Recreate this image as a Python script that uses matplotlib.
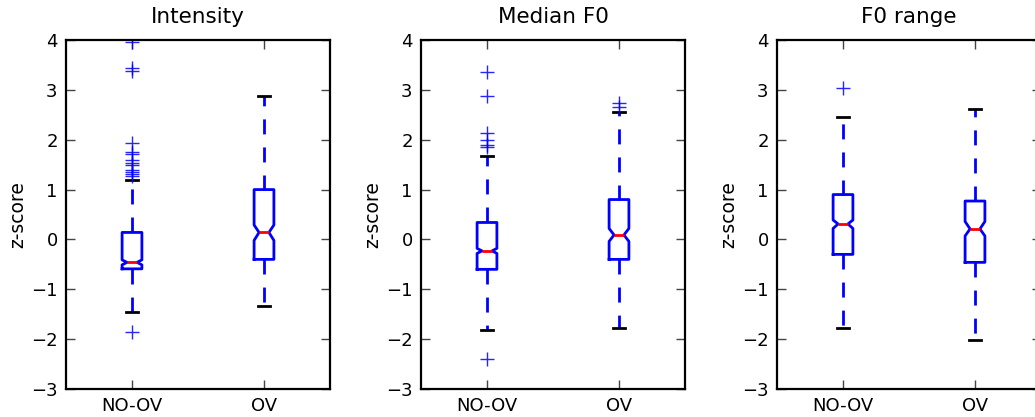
import matplotlib
matplotlib.use("Agg")
import matplotlib.pyplot as plt

plt.rcParams["font.family"] = ["DejaVu Sans"]
plt.rcParams["font.size"] = 13
plt.rcParams["lines.scale_dashes"] = False

groups = ["NO-OV", "OV"]
titles = ["Intensity", "Median F0", "F0 range"]

# box statistics, one list per panel: [NO-OV, OV]
medians = [[-0.46, 0.14], [-0.23, 0.09], [0.31, 0.21]]
q1 = [[-0.59, -0.40], [-0.60, -0.40], [-0.30, -0.46]]
q3 = [[0.14, 1.00], [0.34, 0.80], [0.90, 0.77]]
notch_lo = [[-0.51, -0.02], [-0.28, -0.04], [0.22, 0.07]]
notch_hi = [[-0.41, 0.29], [-0.18, 0.22], [0.39, 0.36]]
whisk_lo = [[-1.45, -1.34], [-1.82, -1.78], [-1.78, -2.02]]
whisk_hi = [[1.19, 2.88], [1.68, 2.55], [2.46, 2.62]]
outliers = [
    [[3.95, 3.43, 3.38, 1.93, 1.76, 1.71, 1.59, 1.54, 1.49, 1.39, 1.35, 1.31, 1.28, -1.85], []],
    [[3.36, 2.88, 2.14, 2.00, 1.90, 1.85, -2.39], [2.73, 2.66]],
    [[3.04], []],
]

fig = plt.figure(figsize=(10.35, 4.17), dpi=100)
lefts = [66, 421, 777]

for i in range(3):
    ax = fig.add_axes([lefts[i] / 1035, 28 / 417, 264 / 1035, 349 / 417])
    stats = []
    for j in range(2):
        stats.append({
            "med": medians[i][j], "q1": q1[i][j], "q3": q3[i][j],
            "cilo": notch_lo[i][j], "cihi": notch_hi[i][j],
            "whislo": whisk_lo[i][j], "whishi": whisk_hi[i][j],
            "fliers": outliers[i][j], "label": groups[j],
        })
    ax.bxp(stats, positions=[1, 2], widths=0.15, capwidths=0.085, shownotches=True,
           boxprops=dict(color="blue", linewidth=2),
           whiskerprops=dict(color="blue", linewidth=2, linestyle=(0, (10.8, 9.4))),
           capprops=dict(color="black", linewidth=2),
           medianprops=dict(color="red", linewidth=2),
           flierprops=dict(marker="+", markeredgecolor="blue", markersize=10.5,
                           markeredgewidth=1.0, alpha=0.85, linestyle="none"))
    ax.set_xlim(0.5, 2.5)
    ax.set_ylim(-3, 4)
    ax.set_yticks(range(-3, 5))
    ax.set_title(titles[i], fontsize=15.5, pad=12)
    ax.set_ylabel("z-score", fontsize=13.5, labelpad=3)
    ax.tick_params(direction="in", length=6.5, width=1, top=True, right=True,
                   colors="#444444", labelcolor="black", pad=6)
    for s in ax.spines.values():
        s.set_linewidth(1.6)

fig.savefig("out.png", dpi=100)
